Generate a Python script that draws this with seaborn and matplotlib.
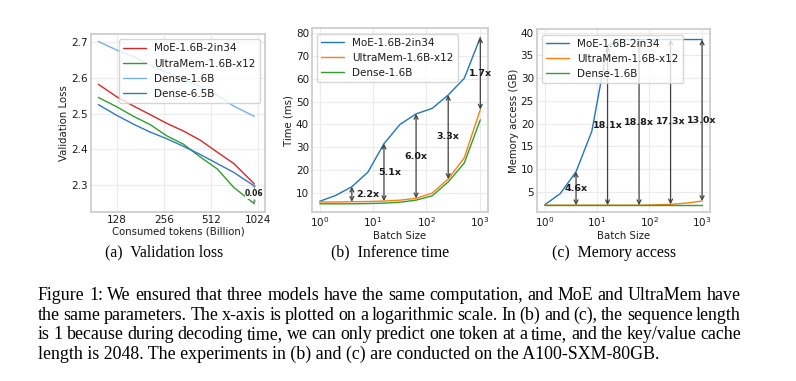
import matplotlib
matplotlib.use('Agg')
import matplotlib.pyplot as plt
import seaborn as sns

# (a) Validation loss vs consumed tokens (billion)
tokens = [97, 127, 163, 208, 267, 340, 436, 558, 713, 965]
moe_loss = [2.582, 2.547, 2.521, 2.497, 2.472, 2.451, 2.425, 2.392, 2.360, 2.303]
ultramem_loss = [2.545, 2.519, 2.492, 2.469, 2.437, 2.414, 2.378, 2.345, 2.293, 2.247]
dense16_loss = [2.702, 2.678, 2.660, 2.636, 2.614, 2.596, 2.575, 2.552, 2.521, 2.492]
dense65_loss = [2.525, 2.495, 2.470, 2.448, 2.429, 2.408, 2.385, 2.360, 2.335, 2.297]
loss_tick_labels = ['128', '256', '512', '1024']

# (b) Inference time (ms) and (c) memory access (GB) vs batch size
batch_sizes = [1, 2, 4, 8, 16, 32, 64, 128, 256, 512, 1024]
moe_time = [6.2, 8.8, 12.6, 19.0, 31.5, 40.0, 44.6, 47.0, 52.9, 60.2, 78.2]
ultramem_time = [5.9, 5.9, 6.0, 6.1, 6.3, 6.7, 7.5, 9.8, 16.0, 25.3, 46.5]
dense_time = [5.1, 5.1, 5.1, 5.2, 5.4, 5.8, 6.7, 8.6, 14.7, 23.0, 42.0]
time_arrow_batches = [4, 16, 64, 256, 1024]
time_ratio_labels = ['2.2x', '5.1x', '6.0x', '3.3x', '1.7x']

moe_mem = [2.1, 4.6, 9.4, 18.3, 37.1, 38.5, 38.5, 38.5, 38.5, 38.5, 38.5]
ultramem_mem = [2.05, 2.05, 2.05, 2.05, 2.05, 2.05, 2.05, 2.12, 2.23, 2.5, 2.96]
dense_mem = [2.0, 2.0, 2.0, 2.0, 2.0, 2.0, 2.0, 2.0, 2.0, 2.0, 2.0]
mem_arrow_batches = [4, 16, 64, 256, 1024]
mem_ratio_labels = ['4.6x', '18.1x', '18.8x', '17.3x', '13.0x']

# caption texts
subcaptions = ['(a)  Validation loss', '(b)  Inference time', '(c)  Memory access']
caption_lines = [
    'Figure 1: We ensured that three models have the same computation, and MoE and UltraMem have',
    'the same parameters. The x-axis is plotted on a logarithmic scale. In (b) and (c), the sequence length',
    'is 1 because during decoding time, we can only predict one token at a time, and the key/value cache',
    'length is 2048. The experiments in (b) and (c) are conducted on the A100-SXM-80GB.',
]

sns.set_theme(style='whitegrid')
plt.rcParams['font.family'] = ['DejaVu Sans']
plt.rcParams.update({
    'font.size': 7.3,
    'axes.labelsize': 7.3,
    'xtick.labelsize': 7.5,
    'ytick.labelsize': 7.5,
    'legend.fontsize': 7.5,
    'legend.handlelength': 2.2,
    'axes.edgecolor': '0.8',
    'text.color': '0.1',
    'axes.labelcolor': '0.1',
    'xtick.color': '0.1',
    'ytick.color': '0.1',
})

W, H = 796, 381
fig = plt.figure(figsize=(W / 100, H / 100), dpi=100)
ax_a = fig.add_axes([0.1143, 0.4436, 0.2186, 0.4672])
ax_b = fig.add_axes([0.3916, 0.4436, 0.2219, 0.4821])
ax_c = fig.add_axes([0.6742, 0.4436, 0.2177, 0.4795])

arrow_style = dict(arrowstyle='<->', color='0.25', lw=0.9, shrinkA=0, shrinkB=0, mutation_scale=7)

# ---- (a) validation loss
sns.lineplot(x=tokens, y=moe_loss, ax=ax_a, color='#d62728', lw=1.0, label='MoE-1.6B-2in34')
sns.lineplot(x=tokens, y=ultramem_loss, ax=ax_a, color='#2ca02c', lw=1.0, label='UltraMem-1.6B-x12')
sns.lineplot(x=tokens, y=dense16_loss, ax=ax_a, color='#74b3e3', lw=1.0, label='Dense-1.6B')
sns.lineplot(x=tokens, y=dense65_loss, ax=ax_a, color='#2f78c4', lw=1.0, label='Dense-6.5B')
ax_a.set_xscale('log', base=2)
ax_a.set_xticks([128, 256, 512, 1024])
ax_a.set_xticklabels(loss_tick_labels)
ax_a.minorticks_off()
ax_a.set_xlim(87, 1130)
ax_a.set_ylim(2.224, 2.723)
ax_a.set_yticks([2.3, 2.4, 2.5, 2.6, 2.7])
ax_a.set_xlabel('Consumed tokens (Billion)')
ax_a.set_ylabel('Validation Loss')
ax_a.annotate('', xy=(tokens[-1], ultramem_loss[-1]), xytext=(tokens[-1], moe_loss[-1]),
              arrowprops=dict(arrowstyle='<->', color='0.5', lw=0.6, shrinkA=0, shrinkB=0, mutation_scale=4))
ax_a.text(tokens[-1], (moe_loss[-1] + ultramem_loss[-1]) / 2, '0.06', ha='center', va='center',
          fontsize=5.5, fontweight='bold', bbox=dict(facecolor='white', edgecolor='none', pad=0.3))
ax_a.legend(loc='upper right')

# ---- (b) inference time
sns.lineplot(x=batch_sizes, y=moe_time, ax=ax_b, color='#1f77b4', lw=1.0, label='MoE-1.6B-2in34')
sns.lineplot(x=batch_sizes, y=ultramem_time, ax=ax_b, color='#ff7f0e', lw=1.0, label='UltraMem-1.6B-x12')
sns.lineplot(x=batch_sizes, y=dense_time, ax=ax_b, color='#2ca02c', lw=1.0, label='Dense-1.6B')
ax_b.set_xscale('log')
ax_b.set_ylim(1.5, 82.2)
ax_b.set_yticks(range(10, 81, 10))
ax_b.set_xlabel('Batch Size')
ax_b.set_ylabel('Time (ms)')
label_shift_b = [2.0, 1.27, 1.0, 1.0, 1.0]
for b, lab, s in zip(time_arrow_batches, time_ratio_labels, label_shift_b):
    i = batch_sizes.index(b)
    ax_b.annotate('', xy=(b, ultramem_time[i]), xytext=(b, moe_time[i]), arrowprops=arrow_style)
    ax_b.text(b * s, (moe_time[i] + ultramem_time[i]) / 2, lab, ha='center', va='center',
              fontsize=6.8, fontweight='bold')
ax_b.legend(loc='upper left')

# ---- (c) memory access
sns.lineplot(x=batch_sizes, y=moe_mem, ax=ax_c, color='#1f77b4', lw=1.0, label='MoE-1.6B-2in34')
sns.lineplot(x=batch_sizes, y=ultramem_mem, ax=ax_c, color='#ff7f0e', lw=1.0, label='UltraMem-1.6B-x12')
sns.lineplot(x=batch_sizes, y=dense_mem, ax=ax_c, color='#2ca02c', lw=1.0, label='Dense-1.6B')
ax_c.set_xscale('log')
ax_c.set_ylim(0.55, 40.75)
ax_c.set_yticks(range(5, 41, 5))
ax_c.set_xlabel('Batch Size')
ax_c.set_ylabel('Memory access (GB)')
for b, lab in zip(mem_arrow_batches, mem_ratio_labels):
    i = batch_sizes.index(b)
    ax_c.annotate('', xy=(b, ultramem_mem[i]), xytext=(b, moe_mem[i]), arrowprops=arrow_style)
    ax_c.text(b, (moe_mem[i] + ultramem_mem[i]) / 2, lab, ha='center', va='center',
              fontsize=6.8, fontweight='bold')
ax_c.legend(loc='upper left')

for ax in (ax_a, ax_b, ax_c):
    ax.tick_params(which='both', length=0, pad=2)
    ax.xaxis.labelpad = 1.5
    ax.yaxis.labelpad = 1.5
    ax.grid(True, color='0.92', lw=0.8)

# ---- sub captions and figure caption (serif, justified like the paper)
for cx, txt in zip([164.5, 390, 614], subcaptions):
    fig.text(cx / W, 1 - 256.7 / H, txt, ha='center', va='baseline',
             family='Liberation Serif', fontsize=11.3, color='black')

serif = dict(family='Liberation Serif', fontsize=12.9, color='black')
renderer = fig.canvas.get_renderer()
x_left, x_right = 38, 741
baselines = [300, 319.5, 339, 358.5]
for n, (line, yb) in enumerate(zip(caption_lines, baselines)):
    if n == len(caption_lines) - 1:
        fig.text(x_left / W, 1 - yb / H, line, ha='left', va='baseline', **serif)
        continue
    words = line.split()
    objs = [fig.text(0, 1 - yb / H, w, ha='left', va='baseline', **serif) for w in words]
    widths = [o.get_window_extent(renderer).width for o in objs]
    gap = (x_right - x_left - sum(widths)) / (len(words) - 1)
    x = x_left
    for o, w in zip(objs, widths):
        o.set_x(x / W)
        x += w + gap

plt.savefig('out.png', dpi=100)
plt.close()
